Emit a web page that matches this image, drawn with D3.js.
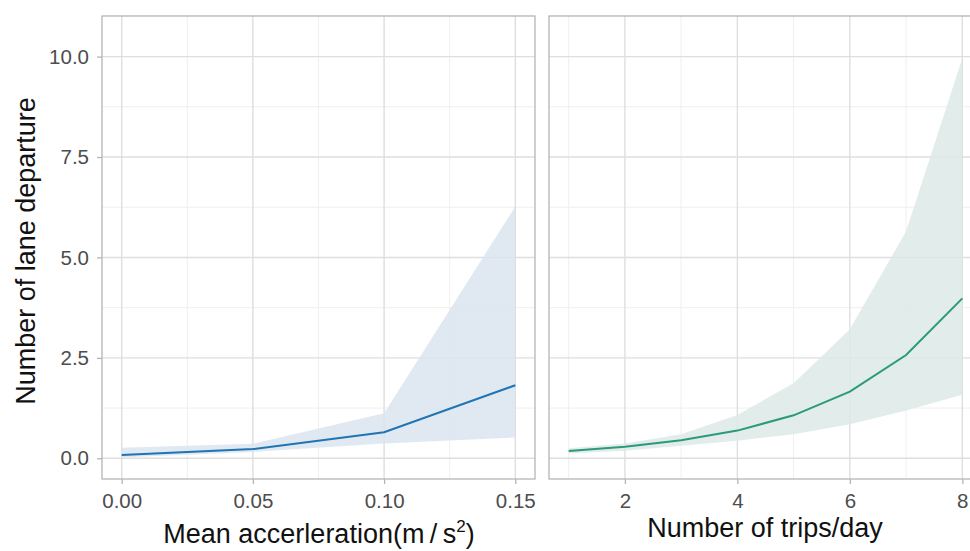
<!DOCTYPE html>
<html>
<head>
<style>
  body { margin: 0; background: #fff; }
  svg { display: block; font-family: "Liberation Sans", Arial, sans-serif; }
</style>
</head>
<body>
<svg id="chart" width="970" height="551"></svg>
<script src="https://cdn.jsdelivr.net/npm/d3@7"></script>
<script>
// left panel: mean acceleration
const accX = [0, 0.05, 0.10, 0.15];
const accFit = [0.08, 0.23, 0.65, 1.82];
const accLow = [0.02, 0.16, 0.37, 0.52];
const accHigh = [0.26, 0.36, 1.12, 6.27];
const accTicks = [0, 0.05, 0.10, 0.15];
const accMinor = [0.025, 0.075, 0.125];

// right panel: trips per day
const tripX = [1, 2, 3, 4, 5, 6, 7, 8];
const tripFit = [0.18, 0.29, 0.45, 0.69, 1.07, 1.66, 2.57, 3.98];
const tripLow = [0.12, 0.19, 0.31, 0.44, 0.60, 0.85, 1.19, 1.58];
const tripHigh = [0.25, 0.37, 0.60, 1.08, 1.87, 3.21, 5.65, 9.96];
const tripTicks = [2, 4, 6, 8];
const tripMinor = [1, 3, 5, 7];

const yTicks = [0, 2.5, 5, 7.5, 10];
const yMinor = [1.25, 3.75, 6.25, 8.75];

const svg = d3.select("#chart");
const panelTop = 16, panelBottom = 479;

const y = d3.scaleLinear().domain([-0.515, 11.01]).range([panelBottom, panelTop]);

const panels = [
  { x0: 102, x1: 535, domain: [-0.0075, 0.1575], xs: accX, fit: accFit, lo: accLow, hi: accHigh,
    ticks: accTicks, minor: accMinor, fmt: d3.format(".2f"), line: "#1f74b4", fill: "#dbe5f0",
    title: "Mean accerleration(m\u2009/\u2009s", sup: "2", titleX: 319, titleY: 543, yLabels: true },
  { x0: 549, x1: 982, domain: [0.65, 8.35], xs: tripX, fit: tripFit, lo: tripLow, hi: tripHigh,
    ticks: tripTicks, minor: tripMinor, fmt: d3.format("d"), line: "#2a9a7a", fill: "#dde9e6",
    title: "Number of trips/day", titleX: 765, titleY: 537, yLabels: false }
];

panels.forEach(p => {
  const x = d3.scaleLinear().domain(p.domain).range([p.x0, p.x1]);
  const g = svg.append("g");

  // minor grid
  g.selectAll(".ymin").data(yMinor).join("line")
    .attr("x1", p.x0).attr("x2", p.x1).attr("y1", d => y(d)).attr("y2", d => y(d))
    .attr("stroke", "#efefef").attr("stroke-width", 1);
  g.selectAll(".xmin").data(p.minor).join("line")
    .attr("x1", d => x(d)).attr("x2", d => x(d)).attr("y1", panelTop).attr("y2", panelBottom)
    .attr("stroke", "#efefef").attr("stroke-width", 1);
  // major grid
  g.selectAll(".ymaj").data(yTicks).join("line")
    .attr("x1", p.x0).attr("x2", p.x1).attr("y1", d => y(d)).attr("y2", d => y(d))
    .attr("stroke", "#dedede").attr("stroke-width", 1.4);
  g.selectAll(".xmaj").data(p.ticks).join("line")
    .attr("x1", d => x(d)).attr("x2", d => x(d)).attr("y1", panelTop).attr("y2", panelBottom)
    .attr("stroke", "#dedede").attr("stroke-width", 1.4);

  const rows = p.xs.map((v, i) => ({ x: v, fit: p.fit[i], lo: p.lo[i], hi: p.hi[i] }));

  g.append("path").datum(rows)
    .attr("d", d3.area().x(d => x(d.x)).y0(d => y(d.lo)).y1(d => y(d.hi)))
    .attr("fill", p.fill).attr("fill-opacity", 0.85);
  g.append("path").datum(rows)
    .attr("d", d3.line().x(d => x(d.x)).y(d => y(d.fit)))
    .attr("fill", "none").attr("stroke", p.line).attr("stroke-width", 2);

  // border
  g.append("rect").attr("x", p.x0).attr("y", panelTop)
    .attr("width", p.x1 - p.x0).attr("height", panelBottom - panelTop)
    .attr("fill", "none").attr("stroke", "#b5b5b5").attr("stroke-width", 1.3);

  // x axis
  const xa = svg.append("g").attr("transform", `translate(0,${panelBottom})`)
    .call(d3.axisBottom(x).tickValues(p.ticks).tickFormat(p.fmt).tickSize(5).tickPadding(9));
  xa.select(".domain").remove();
  xa.selectAll(".tick line").attr("stroke", "#b5b5b5").attr("stroke-width", 1.3);
  xa.selectAll(".tick text").attr("fill", "#4d4d4d").style("font-size", "20.5px")
    .style("font-family", "Liberation Sans, Arial, sans-serif");

  if (p.yLabels) {
    const ya = svg.append("g").attr("transform", `translate(${p.x0},0)`)
      .call(d3.axisLeft(y).tickValues(yTicks).tickFormat(d3.format(".1f")).tickSize(5).tickPadding(8));
    ya.select(".domain").remove();
    ya.selectAll(".tick line").attr("stroke", "#b5b5b5").attr("stroke-width", 1.3);
    ya.selectAll(".tick text").attr("fill", "#4d4d4d").style("font-size", "20.5px")
      .style("font-family", "Liberation Sans, Arial, sans-serif");
  }

  const t = svg.append("text").attr("x", p.titleX).attr("y", p.titleY)
    .attr("text-anchor", "middle").attr("fill", "#111").style("font-size", "27px")
    .text(p.title);
  if (p.sup) {
    t.append("tspan").attr("dy", -11).style("font-size", "17px").text(p.sup);
    t.append("tspan").attr("dy", 11).text(")");
  }
});

svg.append("text")
  .attr("transform", "translate(35,251) rotate(-90)")
  .attr("text-anchor", "middle").attr("fill", "#111").style("font-size", "27px")
  .text("Number of lane departure");
</script>
</body>
</html>
